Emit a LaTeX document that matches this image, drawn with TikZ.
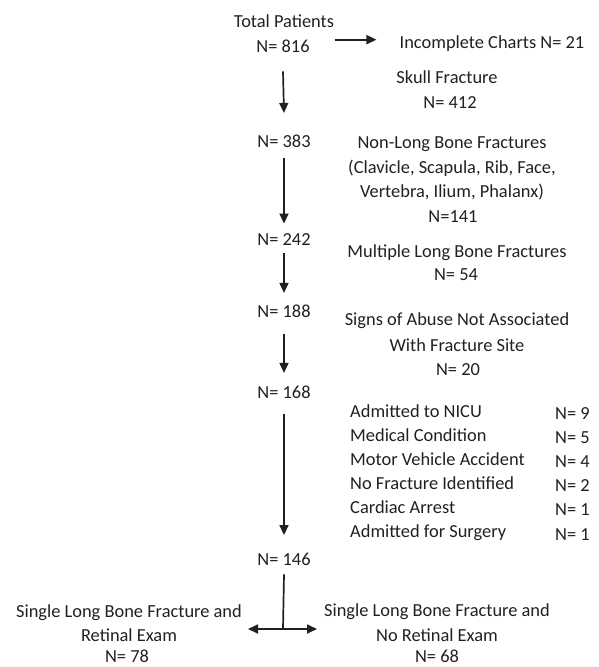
\documentclass[tikz,border=0pt]{standalone}
\usepackage{fontspec}
\setmainfont{Carlito}
\usetikzlibrary{arrows.meta}
\definecolor{ink}{HTML}{231F20}
\tikzset{
  txt/.style={anchor=mid, inner sep=0pt, yshift=-3pt, text=ink, font=\fontsize{18.4}{24}\selectfont},
  lft/.style={txt, anchor=mid west},
  arr/.style={draw=ink, line width=1.7pt, -{Triangle[width=9pt,length=10pt]}},
  plain/.style={draw=ink, line width=1.7pt},
}
\begin{document}
\begin{tikzpicture}[x=1pt,y=-1pt]
\useasboundingbox (0,0) rectangle (599,667);
% main column
\node[txt] (total) at (284,22) {Total Patients};
\node[txt] (n816) at (283,47) {N= 816};
\node[txt] (n383) at (284,142) {N= 383};
\node[txt] (n242) at (284,240) {N= 242};
\node[txt] (n188) at (284,312) {N= 188};
\node[txt] (n168) at (284,393) {N= 168};
\node[txt] (n146) at (284,560) {N= 146};
% side texts
\node[txt] (incomplete) at (492,43) {Incomplete Charts N= 21};
\node[txt] (skullA) at (447,78) {Skull Fracture};
\node[txt] (skullB) at (450,103) {N= 412};
\node[txt] (nlA) at (452,143) {Non-Long Bone Fractures};
\node[txt] (nlB) at (452,168) {(Clavicle, Scapula, Rib, Face,};
\node[txt] (nlC) at (452,192) {Vertebra, Ilium, Phalanx)};
\node[txt] (nlD) at (453,217) {N=141};
\node[txt] (mlA) at (457,252) {Multiple Long Bone Fractures};
\node[txt] (mlB) at (456,275) {N= 54};
\node[txt] (sgA) at (457,320) {Signs of Abuse Not Associated};
\node[txt] (sgB) at (457,346) {With Fracture Site};
\node[txt] (sgC) at (458,370) {N= 20};
% list
\node[lft] (l1) at (350,412) {Admitted to NICU};
\node[lft] (l2) at (350,436) {Medical Condition};
\node[lft] (l3) at (350,460) {Motor Vehicle Accident};
\node[lft] (l4) at (350,484) {No Fracture Identified};
\node[lft] (l5) at (350,508) {Cardiac Arrest};
\node[lft] (l6) at (350,532) {Admitted for Surgery};
\node[lft] (v1) at (555,414) {N= 9};
\node[lft] (v2) at (555,438) {N= 5};
\node[lft] (v3) at (555,462) {N= 4};
\node[lft] (v4) at (555,486) {N= 2};
\node[lft] (v5) at (555,510) {N= 1};
\node[lft] (v6) at (555,535) {N= 1};
% bottom outcomes
\node[txt] (leftA) at (129,612) {Single Long Bone Fracture and};
\node[txt] (leftB) at (129,636) {Retinal Exam};
\node[txt] (leftC) at (127,657) {N= 78};
\node[txt] (rightA) at (437,611) {Single Long Bone Fracture and};
\node[txt] (rightB) at (437,636) {No Retinal Exam};
\node[txt] (rightC) at (437,657) {N= 68};
% connectors
\coordinate (ra) at ([shift={(25pt,6.5pt)}]n816.east);
\draw[arr, shorten >=23pt] (ra) -- (ra -| incomplete.west);
\draw[arr] ([yshift=-18.7pt]n816.south) -- ([yshift=21.7pt]n383.north);
\draw[arr] ([yshift=-10.7pt]n383.south) -- ([yshift=9.7pt]n242.north);
\draw[arr] ([yshift=-7.7pt]n242.south) -- ([yshift=11.7pt]n188.north);
\draw[arr] ([yshift=-16.7pt]n188.south) -- ([yshift=12.7pt]n168.north);
\draw[arr] ([yshift=-15.7pt]n168.south) -- ([yshift=17.7pt]n146.north);
\coordinate (junc) at (283,629);
\coordinate (tipL) at (248,629);
\coordinate (tipR) at (317,629);
\draw[plain] ([yshift=-8.7pt]n146.south) -- (junc);
\draw[arr] (junc) -- (tipL);
\draw[arr] (junc) -- (tipR);
\end{tikzpicture}
\end{document}
